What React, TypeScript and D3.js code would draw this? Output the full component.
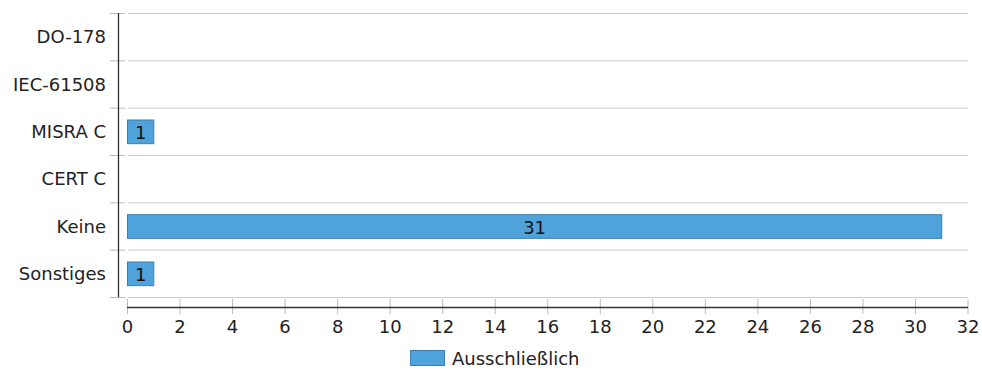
import React from "react";
import * as d3 from "d3";

const categories: string[] = ["DO-178", "IEC-61508", "MISRA C", "CERT C", "Keine", "Sonstiges"];
const values: number[] = [0, 0, 1, 0, 31, 1];
const xTicks: number[] = [0, 2, 4, 6, 8, 10, 12, 14, 16, 18, 20, 22, 24, 26, 28, 30, 32];
const seriesName = "Ausschließlich";

const W = 982;
const H = 372;
const FONT = "'DejaVu Sans', Verdana, sans-serif";

export default function App() {
  const x = d3.scaleLinear().domain([0, 32]).range([127.5, 968]);
  const yBand = d3.scaleBand<string>().domain(categories).range([13, 297]).padding(0);
  const yBar = d3
    .scaleBand<string>()
    .domain(categories)
    .range([13, 297])
    .paddingInner(0.5)
    .paddingOuter(0.25);
  const boundaries = [...categories.map((c) => yBand(c) as number), 297];
  const axisX = 118;
  const axisY = 307;

  return (
    <svg
      width={W}
      height={H}
      style={{ position: "absolute", left: 0, top: 0, background: "#fff" }}
      fontFamily={FONT}
    >
      {/* gridlines */}
      {boundaries.map((b, i) => (
        <line key={"g" + i} x1={128} x2={968} y1={b + 0.5} y2={b + 0.5} stroke="#cccccc" strokeWidth={1} />
      ))}
      {/* y ticks */}
      {boundaries.map((b, i) => (
        <line key={"yt" + i} x1={110} x2={125} y1={b + 0.5} y2={b + 0.5} stroke="#bbbbbb" strokeWidth={1} />
      ))}
      {/* y axis */}
      <line x1={axisX + 0.5} x2={axisX + 0.5} y1={13} y2={297} stroke="#333333" strokeWidth={1.3} />
      {/* y labels */}
      {categories.map((c) => (
        <text
          key={"yl" + c}
          x={106}
          y={(yBand(c) as number) + yBand.bandwidth() / 2}
          textAnchor="end"
          dominantBaseline="central"
          fontSize={18}
          fill="#222"
        >
          {c}
        </text>
      ))}
      {/* x ticks */}
      {xTicks.map((t) => (
        <line key={"xt" + t} x1={x(t)} x2={x(t)} y1={299} y2={314} stroke="#bbbbbb" strokeWidth={1} />
      ))}
      {/* x axis */}
      <line x1={127} x2={968} y1={axisY + 0.5} y2={axisY + 0.5} stroke="#333333" strokeWidth={1.3} />
      {xTicks.map((t) => (
        <text key={"xl" + t} x={x(t)} y={333} textAnchor="middle" fontSize={18} fill="#222">
          {t}
        </text>
      ))}
      {/* bars */}
      {categories.map((c, i) =>
        values[i] > 0 ? (
          <g key={"b" + c}>
            <rect
              x={x(0)}
              y={(yBar(c) as number) + 0.5}
              width={x(values[i]) - x(0)}
              height={yBar.bandwidth()}
              fill="#4fa3da"
              stroke="#3a7fb3"
              strokeWidth={1}
            />
            <text
              x={(x(0) + x(values[i])) / 2}
              y={(yBar(c) as number) + yBar.bandwidth() / 2 + 1}
              textAnchor="middle"
              dominantBaseline="central"
              fontSize={18}
              fill="#111"
            >
              {values[i]}
            </text>
          </g>
        ) : null
      )}
      {/* legend */}
      <rect x={410.5} y={350.5} width={34} height={15} fill="#4fa3da" stroke="#3a7fb3" strokeWidth={1} />
      <text x={452} y={358} dominantBaseline="central" fontSize={18} fill="#222">
        {seriesName}
      </text>
    </svg>
  );
}
